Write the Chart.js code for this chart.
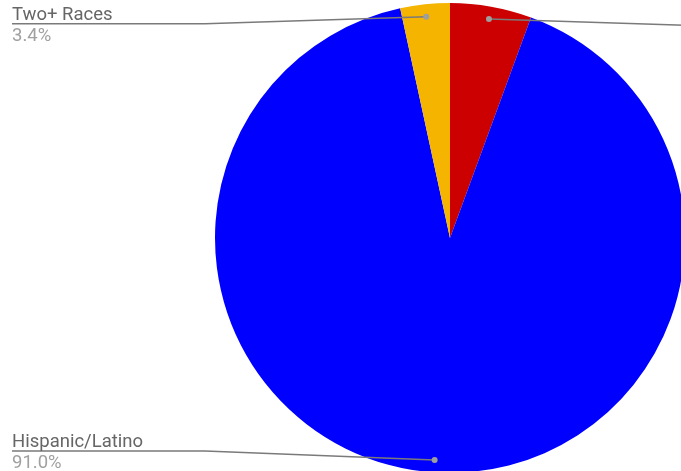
<!DOCTYPE html>
<html>
<head>
<meta charset="utf-8">
<script src="https://cdn.jsdelivr.net/npm/chart.js@4"></script>
<style>
  html, body { margin: 0; padding: 0; overflow: hidden; background: #fff; }
  #wrap { position: absolute; left: 0; top: 0; width: 700px; height: 480px; }
</style>
</head>
<body>
<div id="wrap"><canvas id="myChart"></canvas></div>
<script>
'use strict';
// data
const labels = ['White', 'Hispanic/Latino', 'Two+ Races'];
const values = [5.6, 91.0, 3.4];
const colors = ['#cc0000', '#0000ff', '#f4b400'];

// leader label side and vertical shift of the text line from the dot
const labelSide = ['right', 'left', 'left'];
const lineShift = [7, -9, 7];

const leaderPlugin = {
  id: 'leaders',
  afterDatasetsDraw(chart) {
    const ctx = chart.ctx;
    const area = chart.chartArea;
    const meta = chart.getDatasetMeta(0);
    const total = values.reduce((a, b) => a + b, 0);
    meta.data.forEach((arc, i) => {
      const p = arc.getProps(['x', 'y', 'startAngle', 'endAngle', 'outerRadius'], true);
      const mid = (p.startAngle + p.endAngle) / 2;
      const r = p.outerRadius * 0.947;
      const dx = p.x + Math.cos(mid) * r;
      const dy = p.y + Math.sin(mid) * r;
      const ly = dy + lineShift[i];
      let elbowX, endX, textX;
      if (labelSide[i] === 'left') {
        elbowX = area.left - 10;
        endX = 12;
        textX = 12;
      } else {
        elbowX = area.right + 20;
        endX = area.right + 200;
        textX = area.right + 20;
      }
      ctx.save();
      ctx.strokeStyle = '#7a7a7a';
      ctx.lineWidth = 1.5;
      ctx.beginPath();
      ctx.moveTo(dx, dy);
      ctx.lineTo(elbowX, ly);
      ctx.lineTo(endX, ly);
      ctx.stroke();
      ctx.fillStyle = '#9e9e9e';
      ctx.beginPath();
      ctx.arc(dx, dy, 3, 0, Math.PI * 2);
      ctx.fill();
      ctx.font = '18.5px Roboto';
      ctx.textAlign = 'left';
      ctx.textBaseline = 'alphabetic';
      ctx.fillStyle = '#666666';
      ctx.fillText(labels[i], textX, ly - 4);
      ctx.textBaseline = 'top';
      ctx.fillStyle = '#a0a0a0';
      ctx.fillText((values[i] / total * 100).toFixed(1) + '%', textX, ly + 3);
      ctx.restore();
    });
  }
};

let ctx = document.getElementById('myChart').getContext('2d');
let chart = new Chart(ctx, {
  type: 'pie',
  data: {
    labels: labels,
    datasets: [{
      data: values,
      backgroundColor: colors,
      borderWidth: 0
    }]
  },
  options: {
    responsive: true,
    maintainAspectRatio: false,
    animation: false,
    layout: { padding: { left: 215, top: 3, right: 15, bottom: 7 } },
    plugins: {
      legend: { display: false },
      tooltip: { enabled: false }
    }
  },
  plugins: [leaderPlugin]
});
</script>
</body>
</html>
